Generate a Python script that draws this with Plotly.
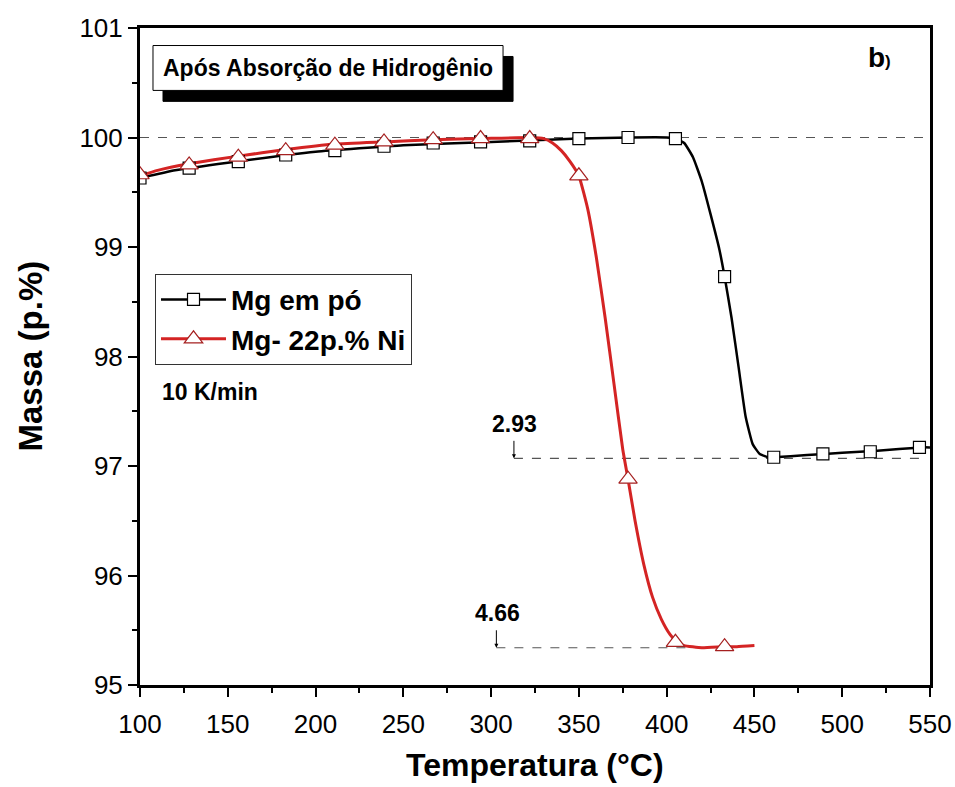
import plotly.graph_objects as go

# ---- data ----
mg_line_x = [100, 120, 150, 200, 250, 300, 350, 380, 400, 405, 410, 415, 420, 425, 430, 433, 437, 441, 445, 449, 453, 458, 461, 480, 500, 520, 545, 550]
mg_line_y = [99.63, 99.70, 99.77, 99.87, 99.93, 99.96, 99.99, 100.0, 100.0, 99.99, 99.95, 99.82, 99.60, 99.30, 98.98, 98.73, 98.35, 97.90, 97.45, 97.20, 97.11, 97.08, 97.08, 97.10, 97.12, 97.14, 97.17, 97.17]
mg_mark_x = [100, 128, 156, 183, 211, 239, 267, 294, 322, 350, 378, 405, 433, 461, 489, 516, 544]
mg_mark_y = [99.63, 99.72, 99.78, 99.84, 99.88, 99.92, 99.95, 99.96, 99.97, 99.99, 100.0, 99.99, 98.73, 97.08, 97.11, 97.13, 97.17]

ni_line_x = [100, 110, 128, 156, 183, 211, 239, 267, 295, 323, 330, 335, 340, 345, 350, 355, 360, 365, 370, 375, 378, 382, 387, 392, 397, 402, 406, 410, 420, 433, 440, 450]
ni_line_y = [99.65, 99.70, 99.76, 99.83, 99.89, 99.94, 99.96, 99.98, 99.99, 100.0, 99.99, 99.95, 99.88, 99.78, 99.65, 99.35, 98.90, 98.35, 97.75, 97.15, 96.88, 96.50, 96.10, 95.80, 95.60, 95.46, 95.39, 95.36, 95.34, 95.35, 95.35, 95.36]
ni_mark_x = [100, 128, 156, 183, 211, 239, 267, 294, 322, 350, 378, 405, 433]
ni_mark_y = [99.66, 99.75, 99.82, 99.88, 99.93, 99.96, 99.98, 99.99, 99.99, 99.65, 96.88, 95.39, 95.35]

names = ["Mg em pó", "Mg- 22p.% Ni"]
loss_labels = ["2.93", "4.66"]
loss_values = [2.93, 4.66]

BLACK = "#000000"
RED = "#D42424"
RED_EDGE = "#A52020"
FONT = "Liberation Sans, Arial, sans-serif"

fig = go.Figure()

# reference dashed line at 100 %
fig.add_shape(type="line", x0=100, x1=550, y0=100, y1=100, xref="x", yref="y",
              line=dict(color="#555555", width=1, dash="dash"), layer="below")

# mass-loss guide lines
fig.add_shape(type="line", x0=313, x1=548, y0=100 - loss_values[0], y1=100 - loss_values[0],
              line=dict(color="#555555", width=1.2, dash="dash"), layer="below")
fig.add_shape(type="line", x0=303, x1=412, y0=100 - loss_values[1], y1=100 - loss_values[1],
              line=dict(color="#555555", width=1.2, dash="dash"), layer="below")

# curves
fig.add_trace(go.Scatter(x=mg_line_x, y=mg_line_y, mode="lines", showlegend=False,
                         line=dict(color=BLACK, width=2.5, shape="spline", smoothing=0.4)))
fig.add_trace(go.Scatter(x=ni_line_x, y=ni_line_y, mode="lines", showlegend=False,
                         line=dict(color=RED, width=3, shape="spline", smoothing=0.4)))
fig.add_trace(go.Scatter(x=mg_mark_x, y=mg_mark_y, mode="markers", showlegend=False,
                         marker=dict(symbol="square", size=12, color="white",
                                     line=dict(color=BLACK, width=1.2))))
fig.add_trace(go.Scatter(x=ni_mark_x, y=ni_mark_y, mode="markers", showlegend=False,
                         marker=dict(symbol="triangle-up", size=16, color="white",
                                     line=dict(color=RED_EDGE, width=1.2))))

# legend entries
fig.add_trace(go.Scatter(x=[None], y=[None], mode="lines+markers", name=names[0],
                         line=dict(color=BLACK, width=2.5),
                         marker=dict(symbol="square", size=12, color="white",
                                     line=dict(color=BLACK, width=1.2))))
fig.add_trace(go.Scatter(x=[None], y=[None], mode="lines+markers", name=names[1],
                         line=dict(color=RED, width=3),
                         marker=dict(symbol="triangle-up", size=16, color="white",
                                     line=dict(color=RED_EDGE, width=1.2))))

# title box with shadow
fig.add_shape(type="rect", x0=113.1, x1=312.5, y0=100.33, y1=100.74,
              fillcolor="black", line=dict(color="black", width=1))
fig.add_shape(type="rect", x0=107.4, x1=306.8, y0=100.43, y1=100.84,
              fillcolor="white", line=dict(color="black", width=1))

annotations = [
    dict(x=207.1, y=100.635, text="<b>Após Absorção de Hidrogênio</b>", showarrow=False,
         font=dict(family=FONT, size=23, color="black")),
    dict(x=521, y=100.73, text="<b>b</b><span style='font-size:17px'><b>)</b></span>", showarrow=False,
         font=dict(family=FONT, size=28, color="black")),
    dict(x=111.5, y=97.68, text="<b>10 K/min</b>", showarrow=False, xanchor="left",
         font=dict(family=FONT, size=23, color="black")),
    dict(x=313.5, y=97.38, text="<b>" + loss_labels[0] + "</b>", showarrow=False,
         font=dict(family=FONT, size=23, color="black")),
    dict(x=303.5, y=95.66, text="<b>" + loss_labels[1] + "</b>", showarrow=False,
         font=dict(family=FONT, size=23, color="black")),
    dict(x=313, y=100 - loss_values[0], ax=0, ay=-19, text="", showarrow=True,
         arrowhead=2, arrowsize=0.8, arrowwidth=1, arrowcolor="black"),
    dict(x=303, y=100 - loss_values[1], ax=0, ay=-19, text="", showarrow=True,
         arrowhead=2, arrowsize=0.8, arrowwidth=1, arrowcolor="black"),
    # axis titles
    dict(x=0.5, y=0, xref="paper", yref="paper", yshift=-80, yanchor="middle",
         text="<b>Temperatura (°C)</b>", showarrow=False,
         font=dict(family=FONT, size=32, color="black")),
    dict(x=0, y=0.5, xref="paper", yref="paper", xshift=-110, xanchor="center",
         yanchor="middle", textangle=-90,
         text="<b>Massa (p.%)</b>", showarrow=False,
         font=dict(family=FONT, size=33, color="black")),
]

fig.update_layout(
    width=955, height=787,
    margin=dict(l=140, r=25, t=28, b=102, autoexpand=False),
    paper_bgcolor="white", plot_bgcolor="white",
    annotations=annotations,
    showlegend=True,
    legend=dict(x=0.019, y=0.626, xanchor="left", yanchor="top",
                bgcolor="white", bordercolor="#333333", borderwidth=1,
                font=dict(family=FONT, size=28, color="black", weight="bold"),
                itemwidth=65, tracegroupgap=0),
    xaxis=dict(range=[100, 550.01], dtick=50, tick0=100, automargin=False,
               showline=True, mirror=True, linecolor="black", linewidth=3,
               ticks="outside", ticklen=9, tickwidth=2, tickcolor="black",
               minor=dict(dtick=25, ticks="outside", ticklen=5, tickwidth=2, tickcolor="black"),
               showgrid=False, zeroline=False, ticklabeloverflow="allow",
               ticklabelstandoff=5,
               tickfont=dict(family=FONT, size=26, color="black")),
    yaxis=dict(range=[95, 101], dtick=1, tick0=95, automargin=False,
               showline=True, mirror=True, linecolor="black", linewidth=3,
               ticks="outside", ticklen=9, tickwidth=2, tickcolor="black",
               minor=dict(dtick=0.5, ticks="outside", ticklen=5, tickwidth=2, tickcolor="black"),
               showgrid=False, zeroline=False,
               tickfont=dict(family=FONT, size=26, color="black")),
)

fig.write_html("out.html", config={"displayModeBar": False},
               post_script="document.body.style.margin='0';document.body.style.overflow='hidden';")
